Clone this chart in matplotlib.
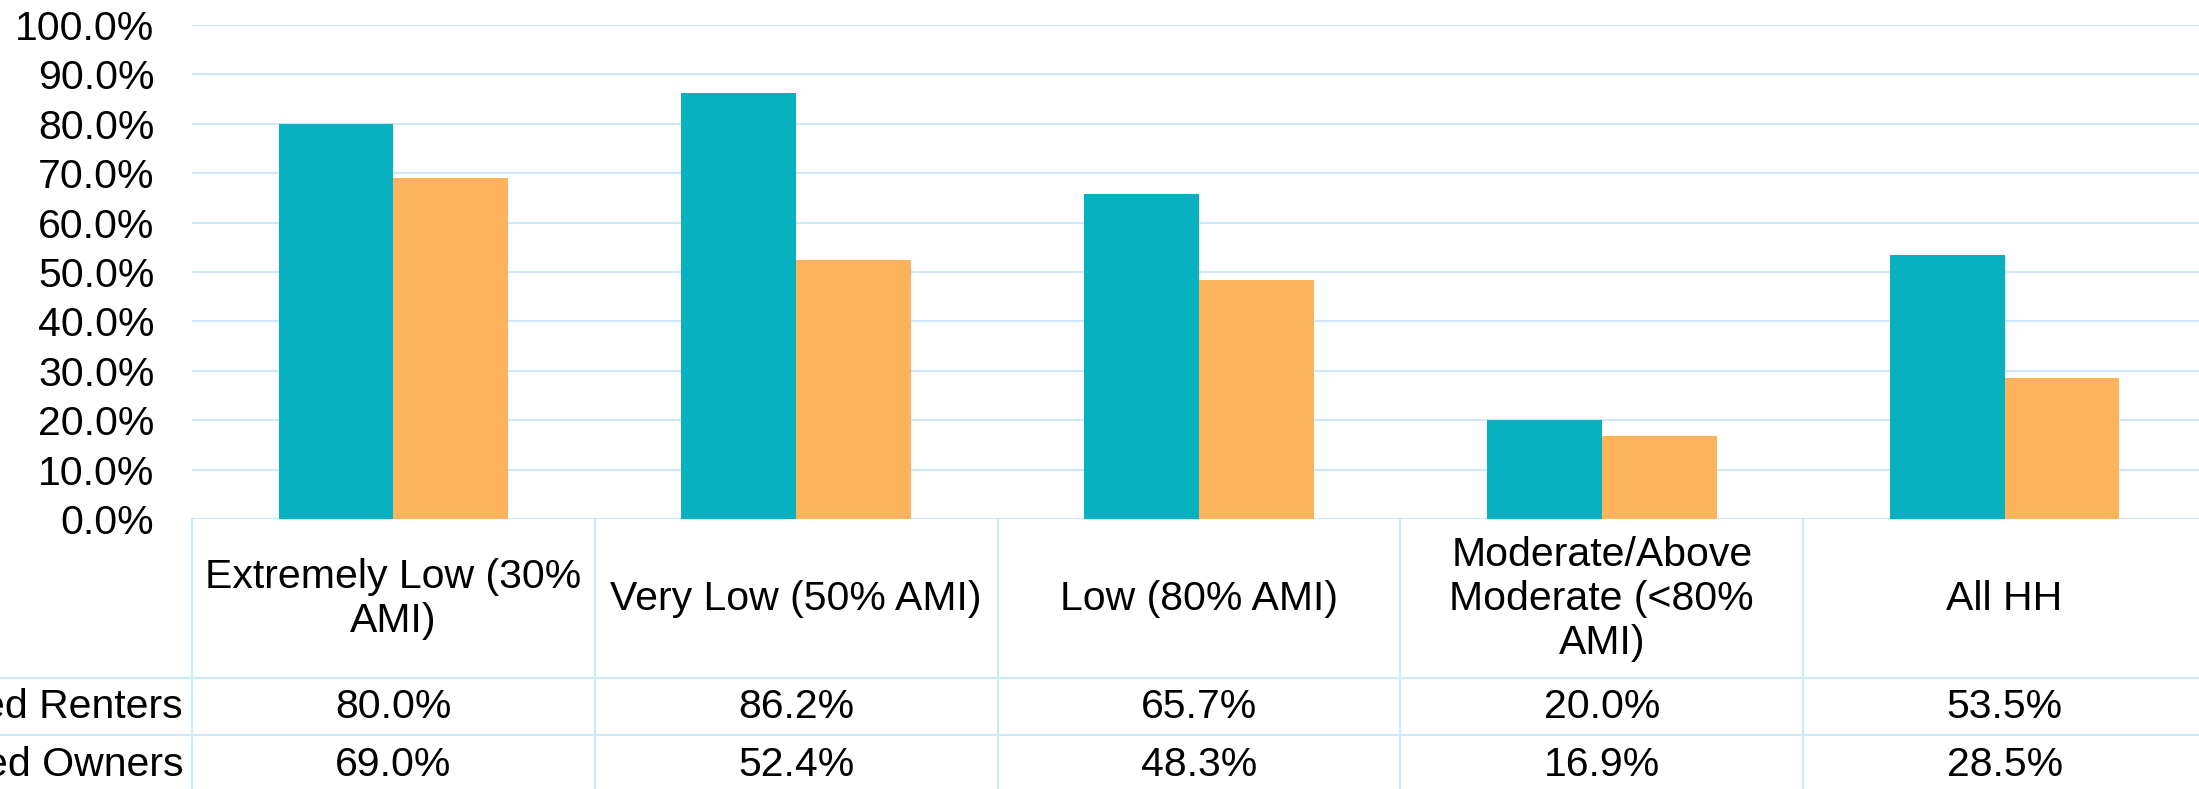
import matplotlib.pyplot as plt
import numpy as np

categories = ["Extremely Low (30%\nAMI)", "Very Low (50% AMI)", "Low (80% AMI)",
              "Moderate/Above\nModerate (<80%\nAMI)", "All HH"]
series_names = ["Cost Burdened Renters", "Cost Burdened Owners"]
renters = [80.0, 86.2, 65.7, 20.0, 53.5]
owners = [69.0, 52.4, 48.3, 16.9, 28.5]
yticks = [0, 10, 20, 30, 40, 50, 60, 70, 80, 90, 100]

teal = "#07B1BF"
orange = "#FDB35C"
grid_col = "#CCE8F9"
fs = 29.5

plt.rcParams['font.family'] = ['Liberation Sans', 'DejaVu Sans']

W, H = 2199, 789
fig = plt.figure(figsize=(W / 100, H / 100), dpi=100)
# plot area in pixels: x 192..2206, y 25..519 (0% line)
ax = fig.add_axes([192 / W, (H - 519) / H, 2014 / W, 494 / H])

x = np.arange(len(categories))
bw = 0.285
ax.bar(x - bw / 2, renters, bw, color=teal, zorder=2)
ax.bar(x + bw / 2, owners, bw, color=orange, zorder=2)

ax.set_xlim(-0.5, len(categories) - 0.5)
ax.set_ylim(0, 100)
ax.set_yticks(yticks)
ax.set_yticklabels([f"{v:.1f}%" for v in yticks], fontsize=fs)
ax.tick_params(axis='y', length=0, pad=27)
ax.tick_params(axis='x', bottom=False, labelbottom=False)
ax.grid(axis='y', color=grid_col, linewidth=1.5, zorder=0)
ax.set_axisbelow(True)
for s in ax.spines.values():
    s.set_visible(False)

# data table below the plot (y in axes fraction)
px = 1 / 494
tr = ax.get_xaxis_transform()
y_head = -(678 - 519) * px
y_r1 = -(735 - 519) * px
y_bot = -(795 - 519) * px
lw = 1.5
for b in np.arange(-0.5, len(categories)):
    ax.plot([b, b], [0, y_bot], color=grid_col, lw=lw, transform=tr, clip_on=False)
for yy in (y_head, y_r1):
    ax.plot([-1.5, len(categories) - 0.5], [yy, yy], color=grid_col, lw=lw,
            transform=tr, clip_on=False)

for i, c in enumerate(categories):
    ax.text(i, y_head / 2, c, ha='center', va='center', fontsize=fs,
            linespacing=1.2, transform=tr, clip_on=False)
    ax.text(i, (y_head + y_r1) / 2, f"{renters[i]:.1f}%", ha='center', va='center',
            fontsize=fs, transform=tr, clip_on=False)
    ax.text(i, (y_r1 + y_bot) / 2, f"{owners[i]:.1f}%", ha='center', va='center',
            fontsize=fs, transform=tr, clip_on=False)

lab_x = -0.5 - 9 / 403
ax.text(lab_x, (y_head + y_r1) / 2, series_names[0], ha='right', va='center',
        fontsize=fs, transform=tr, clip_on=False)
ax.text(lab_x, (y_r1 + y_bot) / 2, series_names[1], ha='right', va='center',
        fontsize=fs, transform=tr, clip_on=False)

fig.savefig("out.png", dpi=100)
